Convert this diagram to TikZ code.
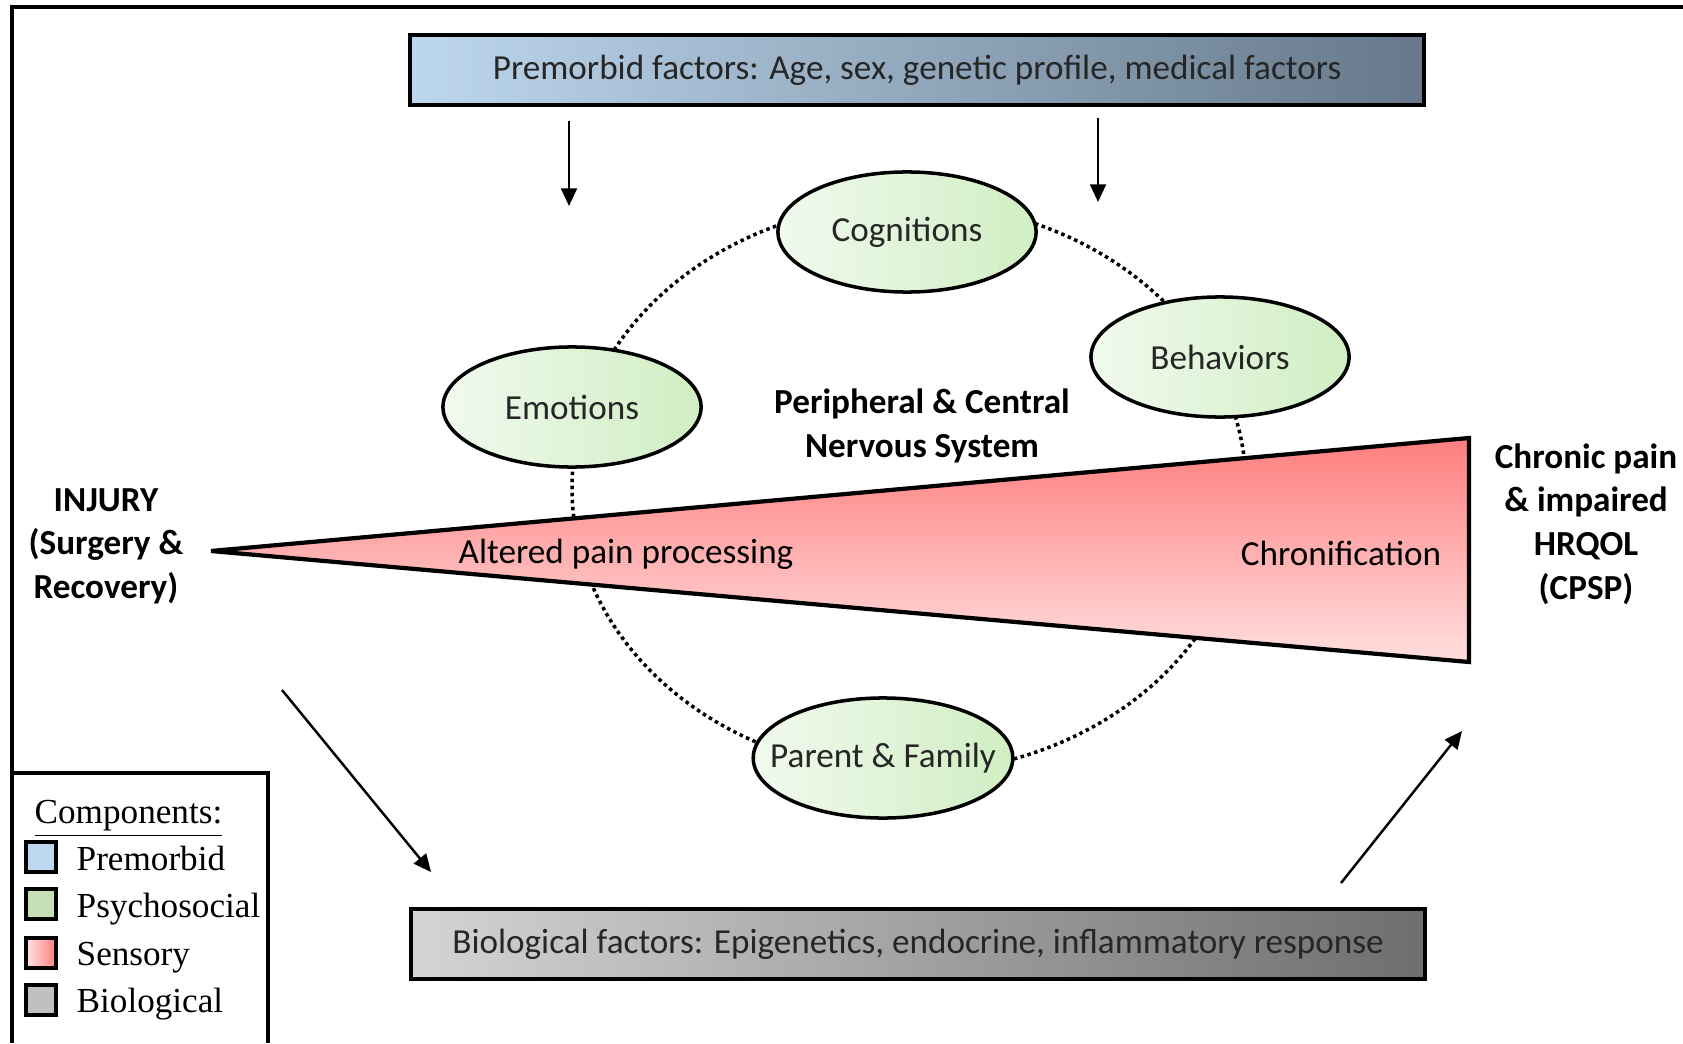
\documentclass[tikz,border=0pt]{standalone}
\usepackage{fontspec}
\setmainfont{Carlito}
\newfontfamily\legendfont{Liberation Serif}
\usetikzlibrary{arrows.meta, shapes.geometric, positioning}

\definecolor{premblue}{HTML}{BDD7EE}
\definecolor{premslate}{HTML}{66788A}
\definecolor{psylight}{HTML}{F1FAEE}
\definecolor{psygreen}{HTML}{D0EEC3}
\definecolor{legendgreen}{HTML}{C5E0B4}
\definecolor{sensred}{HTML}{FF7E7E}
\definecolor{biolight}{HTML}{D4D4D4}
\definecolor{biodark}{HTML}{6E6E6E}
\definecolor{biogray}{HTML}{BFBFBF}

\begin{document}
\begin{tikzpicture}[x=0.01cm, y=-0.01cm, >={Triangle[length=5pt, width=4.5pt]},
  font=\fontsize{10}{12.4}\selectfont,
  factorbox/.style={draw, line width=1.2pt, minimum width=10.14cm, minimum height=0.70cm, text=black!85},
  psy/.style={ellipse, draw, line width=1pt, left color=psylight, right color=psygreen,
    minimum width=2.58cm, minimum height=1.2cm, inner sep=0pt, text=black!85},
  boldlabel/.style={font=\fontsize{10}{12.4}\selectfont\bfseries, align=center},
  swatch/.style={draw, line width=0.9pt, minimum size=0.3cm, inner sep=0pt},
  legendtext/.style={anchor=base west, inner sep=0pt, font=\fontsize{10}{12}\legendfont}]
  \useasboundingbox (0,0) rectangle (1683,1043);
  % Frame
  \draw[line width=1.1pt] (12,1043) -- (12,7) -- (1683,7);
  % Psychosocial ring
  \draw[densely dotted, line width=1pt] (909,488) ellipse [x radius=337, y radius=285];
  % Sensory wedge
  \coordinate (tip) at (211,551);
  \coordinate (wedgetop) at (1469,438);
  \coordinate (wedgebot) at (1469,662);
  \draw[line width=1.2pt, top color=sensred, bottom color=sensred!25] (tip) -- (wedgetop) -- (wedgebot) -- cycle;
  \node (altered) at (626,554) {Altered pain processing};
  \node (chronif) at (1341,553) {Chronification};
  % Factor boxes
  \node[factorbox, left color=premblue, right color=premslate] (premorbid) at (917,70)
    {Premorbid factors: Age, sex, genetic profile, medical factors};
  \node[factorbox, left color=biolight, right color=biodark] (biological) at (918,944)
    {Biological factors: Epigenetics, endocrine, inflammatory response};
  % Psychosocial components
  \node[psy] (cog) at (907,232) {Cognitions};
  \node[psy] (beh) at (1220,357) {Behaviors};
  \node[psy] (emo) at (572,407) {Emotions};
  \node[psy, inner xsep=-0.21cm] (fam) at (883,758) {Parent \& Family};
  % Labels
  \node[boldlabel] (cns) at (922,426) {Peripheral \& Central\\Nervous System};
  \node[boldlabel] (injury) at (106,546) {INJURY\\(Surgery \&\\Recovery)};
  \node[boldlabel] (chronic) at (1586,524) {Chronic pain\\\& impaired\\HRQOL\\(CPSP)};
  % Arrows
  \coordinate (pa1) at (569,121);
  \coordinate (pa2) at (569,206);
  \coordinate (pb1) at (1098,118);
  \coordinate (pb2) at (1098,202);
  \coordinate (ia1) at (282,690);
  \coordinate (ia2) at (431,872);
  \coordinate (ca1) at (1341,883);
  \coordinate (ca2) at (1462,731);
  \draw[->, line width=0.7pt] (pa1) -- (pa2);
  \draw[->, line width=0.7pt] (pb1) -- (pb2);
  \draw[->, line width=0.7pt] (ia1) -- (ia2);
  \draw[->, line width=0.7pt] (ca1) -- (ca2);
  % Legend
  \draw[line width=1pt] (13,773) -- (268,773) -- (268,1043);
  \node[legendtext] (comp) at (34,823) {\underline{Components:}};
  \node[swatch, fill=premblue] (sw1) at (41,857) {};
  \node[swatch, fill=legendgreen] (sw2) at (41,904) {};
  \node[swatch, left color=sensred!20, right color=sensred] (sw3) at (41,953) {};
  \node[swatch, fill=biogray] (sw4) at (41,1000) {};
  \node[legendtext] (lg1) at (76,870) {Premorbid};
  \node[legendtext] (lg2) at (76,917) {Psychosocial};
  \node[legendtext] (lg3) at (76,965) {Sensory};
  \node[legendtext] (lg4) at (76,1012) {Biological};
\end{tikzpicture}
\end{document}
